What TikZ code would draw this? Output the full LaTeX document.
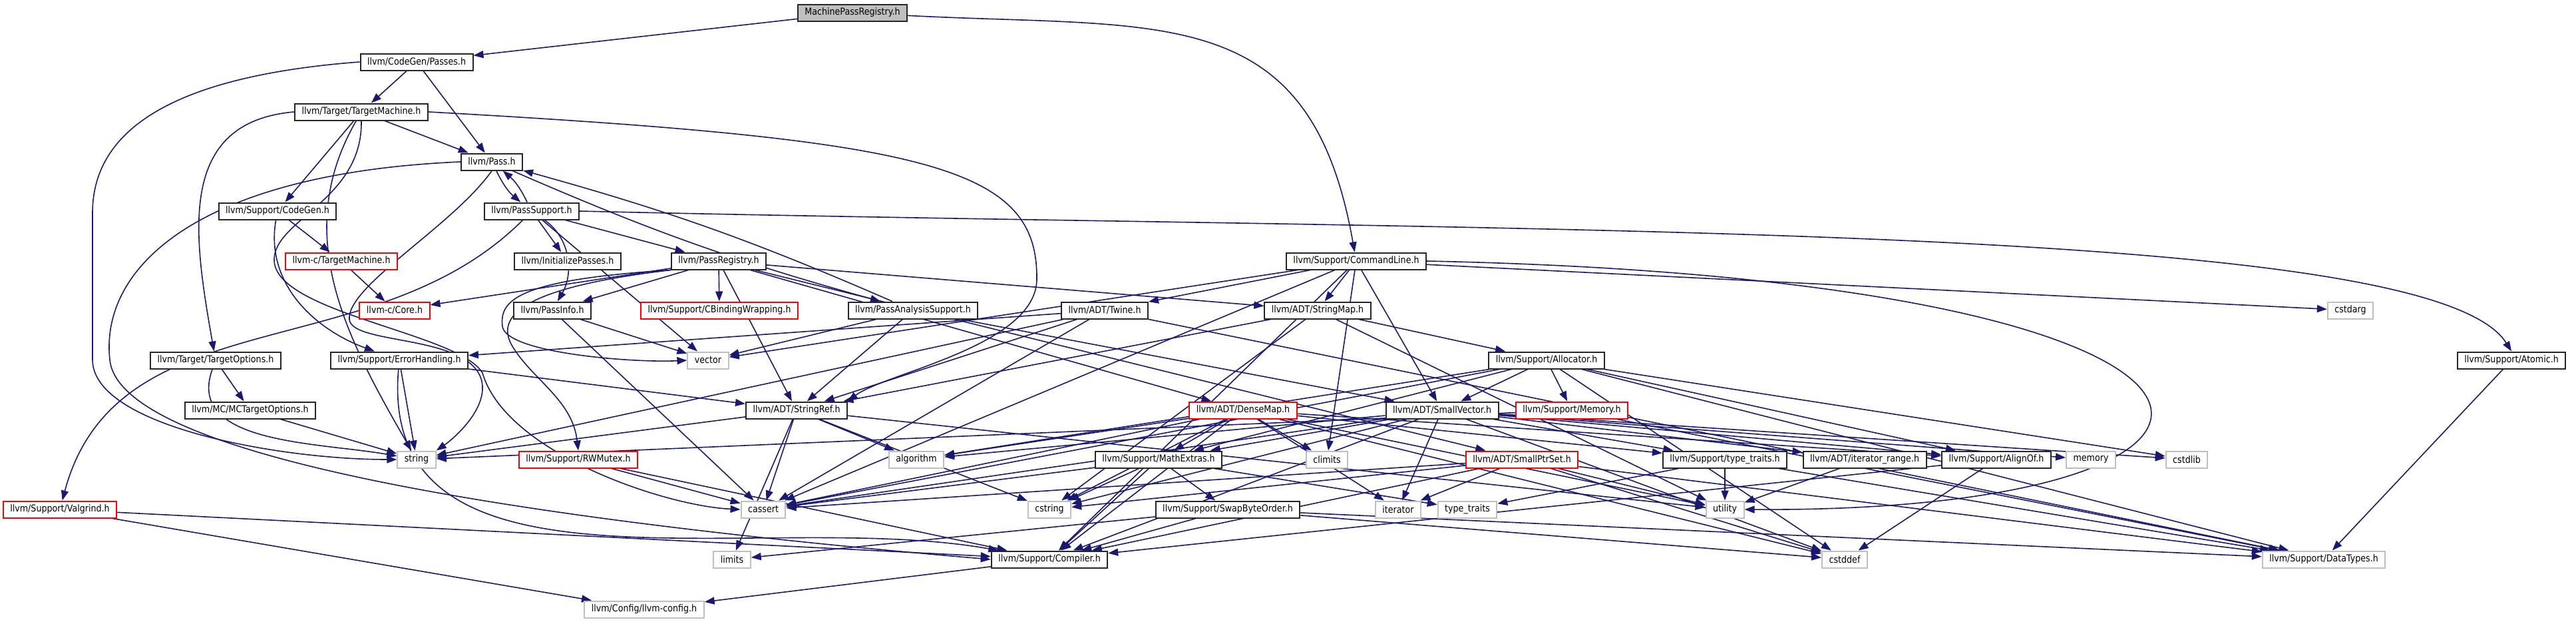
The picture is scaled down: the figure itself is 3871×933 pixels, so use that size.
\documentclass[tikz,border=0pt]{standalone}
\usepackage{fontspec}
\setmainfont{DejaVu Sans}[FakeStretch=0.88]
\usetikzlibrary{arrows.meta,backgrounds}
\definecolor{edgeblue}{RGB}{25,25,112}
\definecolor{sysgray}{RGB}{191,191,191}

\begin{document}
\begin{tikzpicture}[x=0.25pt,y=0.25pt,
  hdr/.style={draw=black!85,line width=0.5pt,fill=white,minimum height=6.25pt,inner xsep=2.625pt,inner ysep=0.5pt,font=\fontsize{3.6}{4}\selectfont},
  trunc/.style={hdr,draw=red},
  sys/.style={hdr,draw=sysgray},
  root/.style={hdr,fill=sysgray},
  inc/.style={draw=edgeblue,line width=0.4pt,-{Triangle[length=3.75pt,width=2.75pt]}}]
\useasboundingbox (0,0) rectangle (3871,-933);
% headers, row by row
\node[root] (mpr) at (1281,-19) {MachinePassRegistry.h};
\node[hdr] (passes) at (626,-93) {llvm/CodeGen/Passes.h};
\node[hdr] (tm) at (543,-168) {llvm/Target/TargetMachine.h};
\node[hdr] (pass) at (739,-243) {llvm/Pass.h};
\node[hdr] (cgen) at (417,-317) {llvm/Support/CodeGen.h};
\node[hdr] (psup) at (799,-317) {llvm/PassSupport.h};
\node[trunc] (ctm) at (513,-392) {llvm-c/TargetMachine.h};
\node[hdr] (initp) at (853,-392) {llvm/InitializePasses.h};
\node[hdr] (preg) at (1080,-392) {llvm/PassRegistry.h};
\node[hdr] (cl) at (2038,-392) {llvm/Support/CommandLine.h};
\node[trunc] (core) at (593,-466) {llvm-c/Core.h};
\node[hdr] (pinfo) at (830,-466) {llvm/PassInfo.h};
\node[trunc] (cbw) at (1081,-466) {llvm/Support/CBindingWrapping.h};
\node[hdr] (pas) at (1372,-466) {llvm/PassAnalysisSupport.h};
\node[hdr] (twine) at (1660,-466) {llvm/ADT/Twine.h};
\node[hdr] (smap) at (1980,-466) {llvm/ADT/StringMap.h};
\node[sys] (cstdarg) at (3532,-466) {cstdarg};
\node[hdr] (topt) at (324,-541) {llvm/Target/TargetOptions.h};
\node[hdr] (err) at (600,-541) {llvm/Support/ErrorHandling.h};
\node[sys] (vector) at (1064,-541) {vector};
\node[hdr] (alloc) at (2324,-541) {llvm/Support/Allocator.h};
\node[hdr] (atomic) at (3774,-541) {llvm/Support/Atomic.h};
\node[hdr] (mcopt) at (376,-616) {llvm/MC/MCTargetOptions.h};
\node[hdr] (sref) at (1197,-616) {llvm/ADT/StringRef.h};
\node[trunc] (dmap) at (1868,-616) {llvm/ADT/DenseMap.h};
\node[hdr] (svec) at (2167,-616) {llvm/ADT/SmallVector.h};
\node[trunc] (mem) at (2362,-616) {llvm/Support/Memory.h};
\node[sys] (string) at (626,-690) {string};
\node[trunc] (rwm) at (869,-690) {llvm/Support/RWMutex.h};
\node[sys] (algo) at (1377,-690) {algorithm};
\node[hdr] (mathx) at (1741,-690) {llvm/Support/MathExtras.h};
\node[sys] (climits) at (1994,-690) {climits};
\node[trunc] (sptr) at (2287,-690) {llvm/ADT/SmallPtrSet.h};
\node[hdr] (ttr) at (2592,-690) {llvm/Support/type\_traits.h};
\node[hdr] (irange) at (2802,-690) {llvm/ADT/iterator\_range.h};
\node[hdr] (align) at (3000,-690) {llvm/Support/AlignOf.h};
\node[sys] (memory) at (3142,-690) {memory};
\node[sys] (cstdlib) at (3286,-690) {cstdlib};
\node[trunc] (valg) at (90,-765) {llvm/Support/Valgrind.h};
\node[sys] (cassert) at (1147,-765) {cassert};
\node[sys] (cstring) at (1577,-765) {cstring};
\node[hdr] (swap) at (1845,-765) {llvm/Support/SwapByteOrder.h};
\node[sys] (iter) at (2101,-765) {iterator};
\node[sys] (tt) at (2205,-765) {type\_traits};
\node[sys] (util) at (2592,-765) {utility};
\node[sys] (limits) at (1100,-840) {limits};
\node[hdr] (comp) at (1577,-840) {llvm/Support/Compiler.h};
\node[sys] (cstddef) at (2772,-840) {cstddef};
\node[sys] (dtypes) at (3492,-840) {llvm/Support/DataTypes.h};
\node[sys] (config) at (968,-915) {llvm/Config/llvm-config.h};
\begin{scope}[on background layer]
% routed edges
\draw[inc] (mpr) -- (passes);
\draw[inc] (mpr) to[out=-3,in=100,looseness=1.3] (cl);
\draw[inc] (passes.west) .. controls (250,-115) and (139,-200) .. (139,-320) -- (139,-540) .. controls (139,-640) and (420,-690) .. (string.west);
\draw[inc] (tm.west) to[out=185,in=100,looseness=1.2] (topt);
\draw[inc] (tm) to[out=240,in=120] (string);
\draw[inc] (tm.south) .. controls (545,-300) and (412,-330) .. (412,-390) .. controls (412,-470) and (690,-500) .. (725,-560) .. controls (760,-680) and (1000,-760) .. (cassert.west);
\draw[inc] (tm.east) .. controls (1400,-210) and (1560,-250) .. (1558,-420) .. controls (1556,-520) and (1330,-560) .. (sref.north east);
\draw[inc] (pass) to[bend right=12] (psup);
\draw[inc] (psup) to[bend right=12] (pass);
\draw[inc] (pass) to[bend right=4] (pas);
\draw[inc] (pas) to[bend right=4] (pass);
\draw[inc] (pass.south) .. controls (680,-340) and (520,-430) .. (525,-480) .. controls (530,-520) and (720,-500) .. (725,-580) .. controls (727,-620) and (680,-660) .. (string.north east);
\draw[inc] (pass.west) .. controls (300,-260) and (150,-400) .. (165,-540) .. controls (180,-700) and (900,-790) .. (comp.west);
\draw[inc] (psup) to[out=225,in=75] (valg);
\draw[inc] (psup.east) .. controls (2300,-350) and (3650,-330) .. (atomic.north);
\draw[inc] (psup) to[out=-35,in=60] (pinfo);
\draw[inc] (cgen) to[out=260,in=160] (err);
\draw[inc] (err) to[out=265,in=170] (comp);
\draw[inc] (preg.south west) .. controls (780,-420) and (750,-450) .. (755,-490) .. controls (760,-530) and (950,-545) .. (vector.west);
\draw[inc] (preg.south west) .. controls (800,-430) and (740,-470) .. (770,-520) .. controls (800,-570) and (860,-600) .. (rwm.north);
\draw[inc] (cl.east) .. controls (3500,-420) and (3500,-770) .. (util.east);
\draw[inc] (topt) to[out=250,in=170] (string);
% straight edges
\foreach \s/\t in {passes/tm,passes/pass,tm/pass,tm/cgen,
  psup/initp,psup/preg,psup/vector,cgen/ctm,ctm/core,
  preg/core,preg/pinfo,preg/cbw,preg/sref,preg/dmap,preg/sptr,preg/smap,
  pinfo/cassert,pinfo/vector,pas/sref,pas/vector,pas/svec,
  cl/twine,cl/smap,cl/svec,cl/comp,cl/cassert,cl/climits,cl/cstdarg,cl/vector,
  topt/mcopt,mcopt/string,err/string,err/sref,
  twine/sref,twine/dtypes,twine/err,twine/cassert,twine/string,
  smap/sref,smap/alloc,smap/cstring,smap/util,
  sref/algo,sref/cassert,sref/cstring,sref/limits,sref/string,sref/util,
  alloc/svec,alloc/mem,alloc/align,alloc/dtypes,alloc/mathx,alloc/algo,alloc/cassert,alloc/cstddef,alloc/cstdlib,
  mem/dtypes,mem/string,
  svec/align,svec/comp,svec/mathx,svec/ttr,svec/algo,svec/cassert,svec/cstddef,svec/cstdlib,svec/cstring,svec/iter,svec/memory,svec/irange,
  dmap/mathx,dmap/align,dmap/comp,dmap/ttr,dmap/algo,dmap/cassert,dmap/climits,dmap/cstddef,dmap/cstring,dmap/iter,dmap/util,
  sptr/comp,sptr/dtypes,sptr/cassert,sptr/cstddef,sptr/cstring,sptr/iter,sptr/util,
  mathx/comp,mathx/swap,mathx/cassert,mathx/cstring,mathx/tt,
  swap/comp,swap/limits,swap/dtypes,swap/cstddef,
  ttr/util,ttr/tt,ttr/dtypes,irange/util,align/comp,align/cstddef,
  rwm/cassert,rwm/comp,valg/config,valg/comp,comp/config,atomic/dtypes}
  \draw[inc] (\s) -- (\t);
\end{scope}
\end{tikzpicture}
\end{document}
